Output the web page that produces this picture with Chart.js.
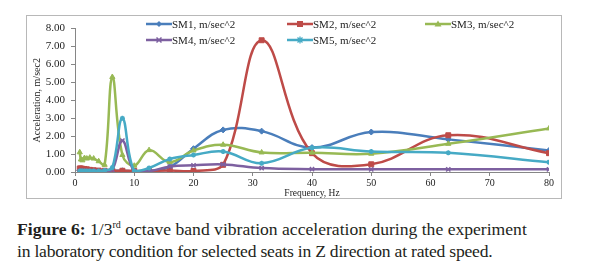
<!DOCTYPE html>
<html>
<head>
<meta charset="utf-8">
<script src="https://cdn.jsdelivr.net/npm/chart.js@4"></script>
<style>
  body { margin: 0; background: #fff; width: 594px; height: 276px; position: relative; overflow: hidden; }
  #box { position: absolute; left: 26px; top: 15px; width: 536px; height: 184px; border: 1px solid #b8b8b8; box-sizing: border-box; }
  #chart { position: absolute; left: 0; top: 0; }
  .leg { position: absolute; height: 12px; font: 11px "Liberation Serif", serif; color: #222; white-space: nowrap; line-height: 12px; }
  .leg svg { position: absolute; left: 0; top: 1px; }
  .leg span { position: absolute; left: 26px; top: 0; }
  #caption { position: absolute; left: 17px; top: 218px; font: 17.6px "Liberation Serif", serif; line-height: 22px; color: #231f20; white-space: nowrap; }
  #caption sup { font-size: 10px; vertical-align: 7px; line-height: 0; }
  #caption .l2 { letter-spacing: -0.22px; }
</style>
</head>
<body>
<div id="box"><canvas id="chart" width="534" height="182"></canvas></div>
<div id="legend"></div>
<div id="caption"><b>Figure 6:</b> 1/3<sup>rd</sup> octave band vibration acceleration during the experiment<br><span class="l2">in laboratory condition for selected seats in Z direction at rated speed.</span></div>
<script>
// 1/3 octave band centre frequencies, Hz
const freqs = [0.8, 1, 1.25, 1.6, 2, 2.5, 3.15, 4, 5, 6.3, 8, 10, 12.5, 16, 20, 25, 31.5, 40, 50, 63, 80];

// acceleration values, m/sec^2
const sm1 = [0.08, 0.08, 0.07, 0.07, 0.06, 0.06, 0.06, 0.05, 0.05, 0.06, 0.07, 0.03, 0.05, 0.28, 1.3, 2.35, 2.28, 1.36, 2.23, 1.82, 1.2];
const sm2 = [0.2, 0.2, 0.18, 0.17, 0.15, 0.12, 0.1, 0.08, 0.07, 0.07, 0.07, 0.06, 0.06, 0.08, 0.06, 0.4, 7.35, 1.05, 0.43, 2.05, 1.05];
const sm3 = [1.1, 0.7, 0.65, 0.78, 0.75, 0.8, 0.75, 0.6, 0.4, 5.3, 0.95, 0.35, 1.22, 0.55, 1.2, 1.52, 1.09, 1.08, 1.02, 1.57, 2.43];
const sm4 = [0.05, 0.05, 0.05, 0.05, 0.05, 0.05, 0.05, 0.05, 0.06, 0.12, 1.75, 0.05, 0.05, 0.3, 0.37, 0.42, 0.22, 0.16, 0.15, 0.15, 0.15];
const sm5 = [0.05, 0.05, 0.05, 0.05, 0.05, 0.05, 0.05, 0.05, 0.08, 0.25, 3.0, 0.05, 0.22, 0.72, 0.95, 1.14, 0.49, 1.35, 1.14, 1.07, 0.55];

const seriesNames = ['SM1, m/sec^2', 'SM2, m/sec^2', 'SM3, m/sec^2', 'SM4, m/sec^2', 'SM5, m/sec^2'];
const yTicks = [0, 1, 2, 3, 4, 5, 6, 7, 8];
const xTicks = [0, 10, 20, 30, 40, 50, 60, 70, 80];

const colors = ['#4a7ebb', '#be4b48', '#98b954', '#7d60a0', '#46aac5'];
const markers = ['rectRot', 'rect', 'triangle', 'crossRot', 'star'];
const allSeries = [sm1, sm2, sm3, sm4, sm5];

const serif = '"Liberation Serif", "Times New Roman", serif';

const datasets = allSeries.map((vals, i) => ({
    label: seriesNames[i],
    data: freqs.map((f, j) => ({ x: f, y: vals[j] })),
    showLine: true,
    tension: 0.4,
    borderColor: colors[i],
    backgroundColor: colors[i],
    borderWidth: 2.5,
    pointStyle: markers[i],
    pointRadius: i === 1 ? 3.5 : (i === 4 ? 2.5 : 3),
    pointBorderWidth: (i === 3 || i === 4) ? 1.5 : 1,
    pointBackgroundColor: colors[i],
    pointBorderColor: colors[i],
    order: 5 - i
}));

new Chart(document.getElementById('chart'), {
    type: 'scatter',
    data: { datasets: datasets },
    options: {
        responsive: false,
        animation: false,
        devicePixelRatio: 1,
        layout: { padding: { left: 0, right: 12, top: 9, bottom: 0 } },
        plugins: { legend: { display: false }, tooltip: { enabled: false } },
        scales: {
            x: {
                type: 'linear',
                min: 0, max: 80,
                afterFit: s => { s.height = 26; },
                afterBuildTicks: s => { s.ticks = xTicks.map(v => ({ value: v })); },
                ticks: { font: { family: serif, size: 10 }, color: '#222', padding: 1, maxRotation: 0 },
                grid: { drawOnChartArea: false, drawTicks: true, tickLength: 4, color: '#868686' },
                border: { color: '#868686', width: 1 },
                title: { display: true, text: 'Frequency, Hz', font: { family: serif, size: 9.5, lineHeight: 1.05 }, color: '#222', padding: { top: 0, bottom: 0 } }
            },
            y: {
                min: 0, max: 8,
                afterFit: s => { s.width = 48; },
                afterBuildTicks: s => { s.ticks = yTicks.map(v => ({ value: v })); },
                ticks: { font: { family: serif, size: 11 }, color: '#222', padding: 6, callback: v => v.toFixed(2) },
                grid: { drawOnChartArea: false, drawTicks: true, tickLength: 4, color: '#868686' },
                border: { color: '#868686', width: 1 },
                title: { display: true, text: 'Acceleration, m/sec2', font: { family: serif, size: 10, lineHeight: 1.2 }, color: '#222', padding: { top: 4, bottom: 0 } }
            }
        }
    }
});

// legend laid out like the original, three columns
const legendPos = [[146, 18], [287, 18], [425, 18], [146, 34], [287, 34]];
const markerSvg = [
    c => `<polygon points="13,2 16,5 13,8 10,5" fill="${c}"/>`,
    c => `<rect x="10" y="2" width="6" height="6" fill="${c}"/>`,
    c => `<polygon points="13,1.5 16.5,7.5 9.5,7.5" fill="${c}"/>`,
    c => `<path d="M10.5 2.5 L15.5 7.5 M15.5 2.5 L10.5 7.5" stroke="${c}" stroke-width="1.5"/>`,
    c => `<path d="M10.5 2.5 L15.5 7.5 M15.5 2.5 L10.5 7.5 M13 1.5 L13 8.5" stroke="${c}" stroke-width="1.3"/>`
];
const legend = document.getElementById('legend');
seriesNames.forEach((name, i) => {
    const item = document.createElement('div');
    item.className = 'leg';
    item.style.left = legendPos[i][0] + 'px';
    item.style.top = legendPos[i][1] + 'px';
    item.innerHTML = `<svg width="26" height="10"><line x1="0" y1="5" x2="26" y2="5" stroke="${colors[i]}" stroke-width="2.5"/>${markerSvg[i](colors[i])}</svg><span>${name}</span>`;
    legend.appendChild(item);
});
</script>
</body>
</html>
